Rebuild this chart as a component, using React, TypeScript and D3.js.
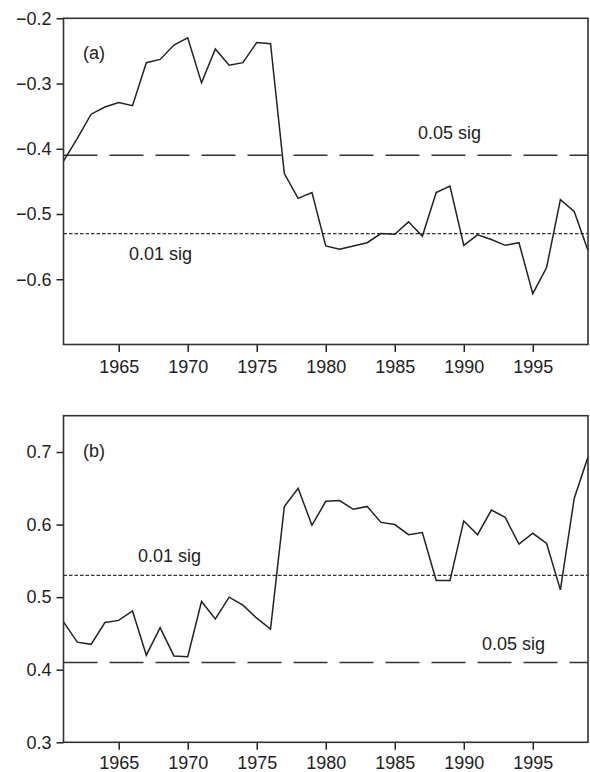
import React, { useRef, useEffect } from 'react'
import * as d3 from 'd3'

const years = d3.range(1961, 2000)
const seriesA = [
  -0.419, -0.384, -0.347, -0.336, -0.329, -0.334, -0.268, -0.263, -0.241, -0.23,
  -0.299, -0.247, -0.272, -0.268, -0.237, -0.239, -0.438, -0.476, -0.467, -0.549,
  -0.554, -0.549, -0.544, -0.53, -0.531, -0.512, -0.534, -0.467, -0.457, -0.548,
  -0.532, -0.539, -0.548, -0.544, -0.622, -0.582, -0.478, -0.496, -0.556,
]
const seriesB = [
  0.466, 0.438, 0.435, 0.465, 0.468, 0.481, 0.42, 0.458, 0.419, 0.418,
  0.494, 0.47, 0.5, 0.489, 0.471, 0.456, 0.625, 0.65, 0.599, 0.632,
  0.633, 0.621, 0.625, 0.603, 0.6, 0.586, 0.589, 0.523, 0.523, 0.605,
  0.586, 0.62, 0.61, 0.573, 0.588, 0.574, 0.51, 0.636, 0.693,
]
const yearTicks = [1965, 1970, 1975, 1980, 1985, 1990, 1995]
const ticksA = [-0.6, -0.5, -0.4, -0.3, -0.2]
const ticksB = [0.3, 0.4, 0.5, 0.6, 0.7]

const panels = [
  {
    label: '(a)',
    values: seriesA,
    domain: [-0.7, -0.2],
    ticks: ticksA,
    top: 18.3,
    bottom: 344.5,
    sig05: -0.41,
    sig01: -0.53,
    lab05: { x: 418, y: 139 },
    lab01: { x: 129, y: 260 },
    pad: 8,
  },
  {
    label: '(b)',
    values: seriesB,
    domain: [0.3, 0.75],
    ticks: ticksB,
    top: 415.7,
    bottom: 742.3,
    sig05: 0.41,
    sig01: 0.53,
    lab05: { x: 482, y: 650 },
    lab01: { x: 138, y: 562 },
    pad: 6.5,
  },
]

export default function App() {
  const ref = useRef<SVGSVGElement>(null)

  useEffect(() => {
    const svg = d3.select(ref.current)
    svg.selectAll('*').remove()

    const left = 63.5
    const right = 588
    const ink = '#222'
    const font = 'Liberation Sans, Arial, sans-serif'
    const fs = 18

    const x = d3.scaleLinear().domain([1961, 1999]).range([left, right])

    panels.forEach((p) => {
      const y = d3.scaleLinear().domain(p.domain).range([p.bottom, p.top])
      const g = svg.append('g')

      // y axis
      const ya = g
        .append('g')
        .attr('transform', `translate(${left},0)`)
        .call(
          d3
            .axisLeft(y)
            .tickValues(p.ticks)
            .tickFormat(d3.format('.1f'))
            .tickSize(7)
            .tickSizeOuter(0)
            .tickPadding(5)
        )
      ya.select('.domain').remove()

      const xa = g
        .append('g')
        .attr('transform', `translate(0,${p.bottom})`)
        .call(
          d3
            .axisBottom(x)
            .tickValues(yearTicks)
            .tickFormat(d3.format('d'))
            .tickSize(7.5)
            .tickSizeOuter(0)
            .tickPadding(p.pad)
        )
      xa.select('.domain').remove()

      g.selectAll('.tick line').attr('stroke', ink).attr('stroke-width', 1.5)
      g.selectAll('.tick text')
        .attr('fill', ink)
        .style('font-family', font)
        .style('font-size', fs + 'px')

      // significance lines
      g.append('line')
        .attr('x1', left)
        .attr('x2', right)
        .attr('y1', y(p.sig05))
        .attr('y2', y(p.sig05))
        .attr('stroke', '#333')
        .attr('stroke-width', 1.5)
        .attr('stroke-dasharray', '34,12')

      g.append('line')
        .attr('x1', left)
        .attr('x2', right)
        .attr('y1', y(p.sig01))
        .attr('y2', y(p.sig01))
        .attr('stroke', '#333')
        .attr('stroke-width', 1.4)
        .attr('stroke-dasharray', '3.5,2')

      // data line
      const line = d3
        .line<number>()
        .x((_, i) => x(years[i]))
        .y((d) => y(d))
      g.append('path')
        .datum(p.values)
        .attr('fill', 'none')
        .attr('stroke', ink)
        .attr('stroke-width', 1.5)
        .attr('stroke-linejoin', 'miter')
        .attr('d', line)

      // frame
      g.append('rect')
        .attr('x', left)
        .attr('y', p.top)
        .attr('width', right - left)
        .attr('height', p.bottom - p.top)
        .attr('fill', 'none')
        .attr('stroke', '#333')
        .attr('stroke-width', 1.6)

      const txt = (s: string, tx: number, ty: number) =>
        g
          .append('text')
          .attr('x', tx)
          .attr('y', ty)
          .attr('fill', ink)
          .style('font-family', font)
          .style('font-size', fs + 'px')
          .text(s)

      txt(p.label, 83, p.top + 41)
      txt('0.05 sig', p.lab05.x, p.lab05.y)
      txt('0.01 sig', p.lab01.x, p.lab01.y)
    })
  }, [])

  return (
    <div style={{ position: 'absolute', left: 0, top: 0, background: '#fff' }}>
      <svg ref={ref} width={590} height={772} style={{ display: 'block' }}></svg>
    </div>
  )
}
